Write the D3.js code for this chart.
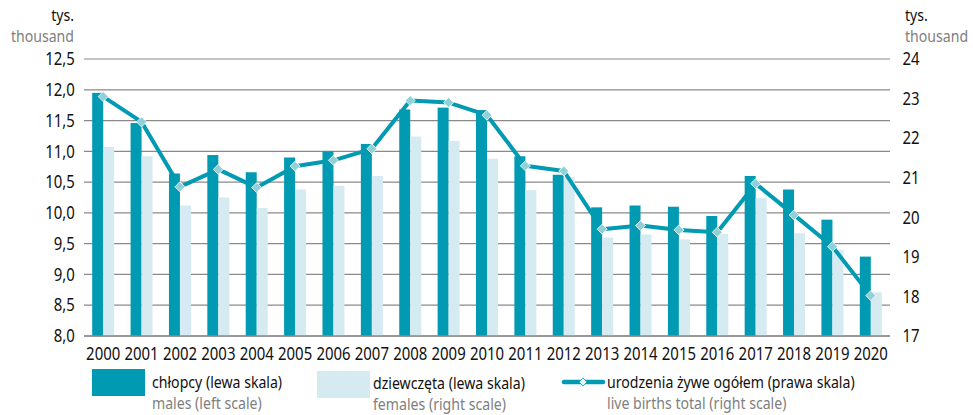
<!DOCTYPE html>
<html>
<head>
<meta charset="utf-8">
<script src="https://cdn.jsdelivr.net/npm/d3@7"></script>
<style>
  body { margin: 0; background: #fff; }
  text { font-family: "Noto Sans", "Open Sans", sans-serif; }
</style>
</head>
<body>
<svg id="wykres" width="973" height="415"></svg>
<script>
// dane
var lata = ["2000","2001","2002","2003","2004","2005","2006","2007","2008","2009","2010",
            "2011","2012","2013","2014","2015","2016","2017","2018","2019","2020"];
var chlopcy = [11.95, 11.46, 10.64, 10.94, 10.66, 10.90, 11.00, 11.12, 11.68, 11.71, 11.67,
               10.92, 10.62, 10.09, 10.12, 10.10, 9.95, 10.60, 10.38, 9.89, 9.29];
var dziewczeta = [11.07, 10.92, 10.12, 10.25, 10.08, 10.38, 10.44, 10.60, 11.24, 11.17, 10.88,
                  10.37, 10.58, 9.60, 9.65, 9.57, 9.66, 10.24, 9.67, 9.40, 8.71];
var urodzenia = [23.05, 22.41, 20.77, 21.21, 20.75, 21.29, 21.44, 21.73, 22.95, 22.90, 22.58,
                 21.30, 21.17, 19.70, 19.79, 19.68, 19.62, 20.85, 20.06, 19.26, 18.02];
var lewyTicks = [8.0, 8.5, 9.0, 9.5, 10.0, 10.5, 11.0, 11.5, 12.0, 12.5];
var prawyTicks = [17, 18, 19, 20, 21, 22, 23, 24];

var ciemny = "#009ab2";
var jasny = "#d5eaf1";
var szary = "#8a8a8a";
var waski = 0.83; // zwezenie tekstu (brak kroju condensed)

var svg = d3.select("#wykres");
var lewo = 84, prawo = 890, gora = 59, dol = 336;

var x = d3.scaleBand().domain(lata).range([lewo, prawo]).padding(0);
var yL = d3.scaleLinear().domain([8, 12.5]).range([dol, gora]);
var yP = d3.scaleLinear().domain([17, 24]).range([dol, gora]);
var szer = 11;
var fmt = function(d) { return d3.format(".1f")(d).replace(".", ","); };

// tekst zwezony w poziomie
function napis(xx, yy, tekst, rozmiar, kolor, anchor) {
    svg.append("g")
        .attr("transform", "translate(" + xx + "," + yy + ") scale(" + waski + ",1)")
        .append("text")
        .attr("text-anchor", anchor || "start")
        .style("font-size", rozmiar + "px")
        .attr("fill", kolor)
        .text(tekst);
}

// siatka
svg.append("g").selectAll("line").data(lewyTicks).enter().append("line")
    .attr("x1", lewo).attr("x2", prawo)
    .attr("y1", function(d) { return yL(d); })
    .attr("y2", function(d) { return yL(d); })
    .attr("stroke", szary).attr("stroke-width", 1.2);

// slupki
var grupy = svg.append("g").selectAll("g").data(lata).enter().append("g");
grupy.append("rect")
    .attr("x", function(d) { return x(d) + x.bandwidth() / 2 - szer; })
    .attr("y", function(d, i) { return yL(chlopcy[i]); })
    .attr("width", szer)
    .attr("height", function(d, i) { return dol - yL(chlopcy[i]); })
    .attr("fill", ciemny);
grupy.append("rect")
    .attr("x", function(d) { return x(d) + x.bandwidth() / 2; })
    .attr("y", function(d, i) { return yL(dziewczeta[i]); })
    .attr("width", szer)
    .attr("height", function(d, i) { return dol - yL(dziewczeta[i]); })
    .attr("fill", jasny);

// os dolna
svg.append("line").attr("x1", lewo).attr("x2", prawo).attr("y1", dol).attr("y2", dol)
    .attr("stroke", szary).attr("stroke-width", 1.5);

// linia
var linia = d3.line()
    .x(function(d, i) { return x(lata[i]) + x.bandwidth() / 2; })
    .y(function(d) { return yP(d); });
svg.append("path").datum(urodzenia)
    .attr("d", linia)
    .attr("fill", "none")
    .attr("stroke", ciemny)
    .attr("stroke-width", 4)
    .attr("stroke-linejoin", "round");
svg.append("g").selectAll("path").data(urodzenia).enter().append("path")
    .attr("d", d3.symbol().type(d3.symbolDiamond2).size(64))
    .attr("transform", function(d, i) {
        return "translate(" + (x(lata[i]) + x.bandwidth() / 2) + "," + yP(d) + ")";
    })
    .attr("fill", "#8fd1d6")
    .attr("stroke", "#ffffff")
    .attr("stroke-width", 0.8);

// osie
var osL = d3.axisLeft(yL).tickValues(lewyTicks).tickFormat(fmt).tickSize(0).tickPadding(11);
var gL = svg.append("g").attr("transform", "translate(" + lewo + ",0)").call(osL);
gL.select(".domain").remove();
gL.selectAll("text").style("font-size", "18px").attr("fill", "#111")
    .style("font-family", "'Noto Sans', sans-serif")
    .attr("transform", "scale(" + waski + ",1)");

var osP = d3.axisRight(yP).tickValues(prawyTicks).tickFormat(d3.format("d")).tickSize(0).tickPadding(15);
var gP = svg.append("g").attr("transform", "translate(" + prawo + ",0)").call(osP);
gP.select(".domain").remove();
gP.selectAll("text").style("font-size", "18px").attr("fill", "#111")
    .style("font-family", "'Noto Sans', sans-serif")
    .attr("transform", "scale(" + waski + ",1)");

var osX = d3.axisBottom(x).tickSize(0).tickPadding(11);
var gX = svg.append("g").attr("transform", "translate(0," + dol + ")").call(osX);
gX.select(".domain").remove();
gX.selectAll("text").style("font-size", "18px").attr("fill", "#111")
    .style("font-family", "'Noto Sans', sans-serif")
    .attr("transform", "scale(" + waski + ",1)");

// jednostki
napis(74, 21, "tys.", 17, "#111", "end");
napis(74, 42, "thousand", 17, "#808080", "end");
napis(905, 21, "tys.", 17, "#111", "start");
napis(905, 42, "thousand", 17, "#808080", "start");

// legenda
var leg = svg.append("g");
leg.append("rect").attr("x", 92).attr("y", 369).attr("width", 53).attr("height", 27).attr("fill", ciemny);
napis(152, 388, "chłopcy (lewa skala)", 17, "#111");
napis(152, 409, "males (left scale)", 17, "#808080");

leg.append("rect").attr("x", 317).attr("y", 371).attr("width", 53).attr("height", 27).attr("fill", jasny);
napis(373, 389, "dziewczęta (lewa skala)", 17, "#111");
napis(373, 410, "females (right scale)", 17, "#808080");

leg.append("line").attr("x1", 564).attr("x2", 603).attr("y1", 382).attr("y2", 382)
    .attr("stroke", ciemny).attr("stroke-width", 4.5).attr("stroke-linecap", "round");
leg.append("path").attr("d", d3.symbol().type(d3.symbolDiamond2).size(40))
    .attr("transform", "translate(583,382)").attr("fill", "#e8f6f8").attr("stroke", ciemny).attr("stroke-width", 0.8);
napis(607, 388, "urodzenia żywe ogółem (prawa skala)", 17, "#111");
napis(607, 409, "live births total (right scale)", 17, "#808080");
</script>
</body>
</html>
